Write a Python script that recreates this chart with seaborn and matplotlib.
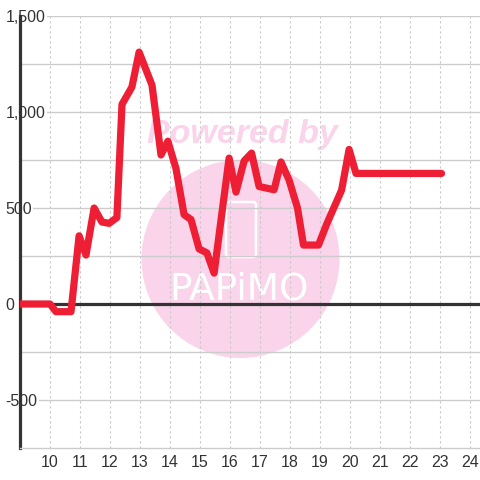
import matplotlib
matplotlib.use("Agg")
import matplotlib.pyplot as plt
import matplotlib.patches as mpatches
import seaborn as sns
import pandas as pd

# ---- data ----
hours = [9.0, 10.0, 10.2, 10.7, 10.97, 11.2, 11.47, 11.73, 11.97, 12.23, 12.4, 12.73,
         12.97, 13.4, 13.7, 13.93, 14.2, 14.47, 14.7, 14.97, 15.23, 15.47, 15.97,
         16.2, 16.47, 16.72, 16.97, 17.47, 17.7, 17.97, 18.25, 18.45, 18.95, 19.22,
         19.72, 19.97, 20.2, 23.05]
values = [0, 0, -40, -40, 355, 255, 500, 427, 420, 450, 1040, 1130,
          1312, 1140, 776, 848, 705, 465, 440, 287, 266, 161, 760,
          583, 745, 786, 612, 595, 740, 645, 500, 307, 307, 415,
          593, 805, 680, 680]
x_ticks = list(range(10, 25))
x_tick_labels = [str(t) for t in x_ticks]
y_ticks = [-500, 0, 500, 1000, 1500]
y_tick_labels = ["-500", "0", "500", "1,000", "1,500"]
y_minor = [-250, 250, 750, 1250]

df = pd.DataFrame({"hour": hours, "value": values})

sns.set_theme(style="white")
plt.rcParams["font.family"] = ["Liberation Sans", "DejaVu Sans"]

fig = plt.figure(figsize=(4.8, 4.8), dpi=100)
ax = fig.add_axes([20 / 480, 32 / 480, 460 / 480, 432 / 480])

# watermark
circ = mpatches.Circle((240.5 / 480, 1 - 259 / 480), 99 / 480, transform=fig.transFigure,
                       facecolor="#FAD4EA", edgecolor="none", zorder=0.2)
ax.add_patch(circ)
ax.text(242 / 480, 1 - 135 / 480, "Powered by", transform=fig.transFigure,
        ha="center", va="center", fontsize=24.5, fontweight="bold", fontstyle="italic",
        color="#FAD4EA", zorder=0.3)
ax.text(239 / 480, 1 - 289 / 480, "PAPiMO", transform=fig.transFigure,
        ha="center", va="center", fontsize=27, family="DejaVu Sans",
        color="white", zorder=0.3)
phone = mpatches.FancyBboxPatch((226 / 480, 1 - 257 / 480), 30 / 480, 55 / 480,
                                boxstyle="round,pad=0,rounding_size=0.006",
                                transform=fig.transFigure, facecolor="none",
                                edgecolor="white", lw=1.8, zorder=0.3)
ax.add_patch(phone)

sns.lineplot(data=df, x="hour", y="value", ax=ax, color="#EE1F35", linewidth=5.2,
             zorder=3)
ax.axhline(0, color="#333333", linewidth=2.3, zorder=2.8)

ax.set_xlim(9, 9 + 460 / 30)
ax.set_ylim(-750, 1500)
ax.set_xticks(x_ticks)
ax.set_xticklabels(x_tick_labels)
ax.set_yticks(y_ticks)
ax.set_yticklabels(y_tick_labels)
ax.set_yticks(y_minor, minor=True)
ax.set_xlabel("")
ax.set_ylabel("")

ax.grid(axis="y", which="both", color="#CCCCCC", linewidth=1, linestyle="-")
ax.grid(axis="x", which="major", color="#C8C8C8", linewidth=0.8, linestyle=(0, (2, 2.5)))

ax.tick_params(axis="x", length=0, pad=5, labelsize=11.5, labelcolor="#333333")
ax.tick_params(axis="y", which="both", length=0, pad=10.5, labelsize=11.5, labelcolor="#333333")
for lab in ax.get_yticklabels():
    lab.set_ha("left")
    lab.set_bbox(dict(facecolor="white", edgecolor="none", pad=1))

for s in ["top", "right"]:
    ax.spines[s].set_visible(False)
ax.spines["left"].set_color("#333333")
ax.spines["left"].set_linewidth(2.3)
ax.spines["bottom"].set_color("#CCCCCC")
ax.spines["bottom"].set_linewidth(1)

fig.savefig("out.png", dpi=100)
